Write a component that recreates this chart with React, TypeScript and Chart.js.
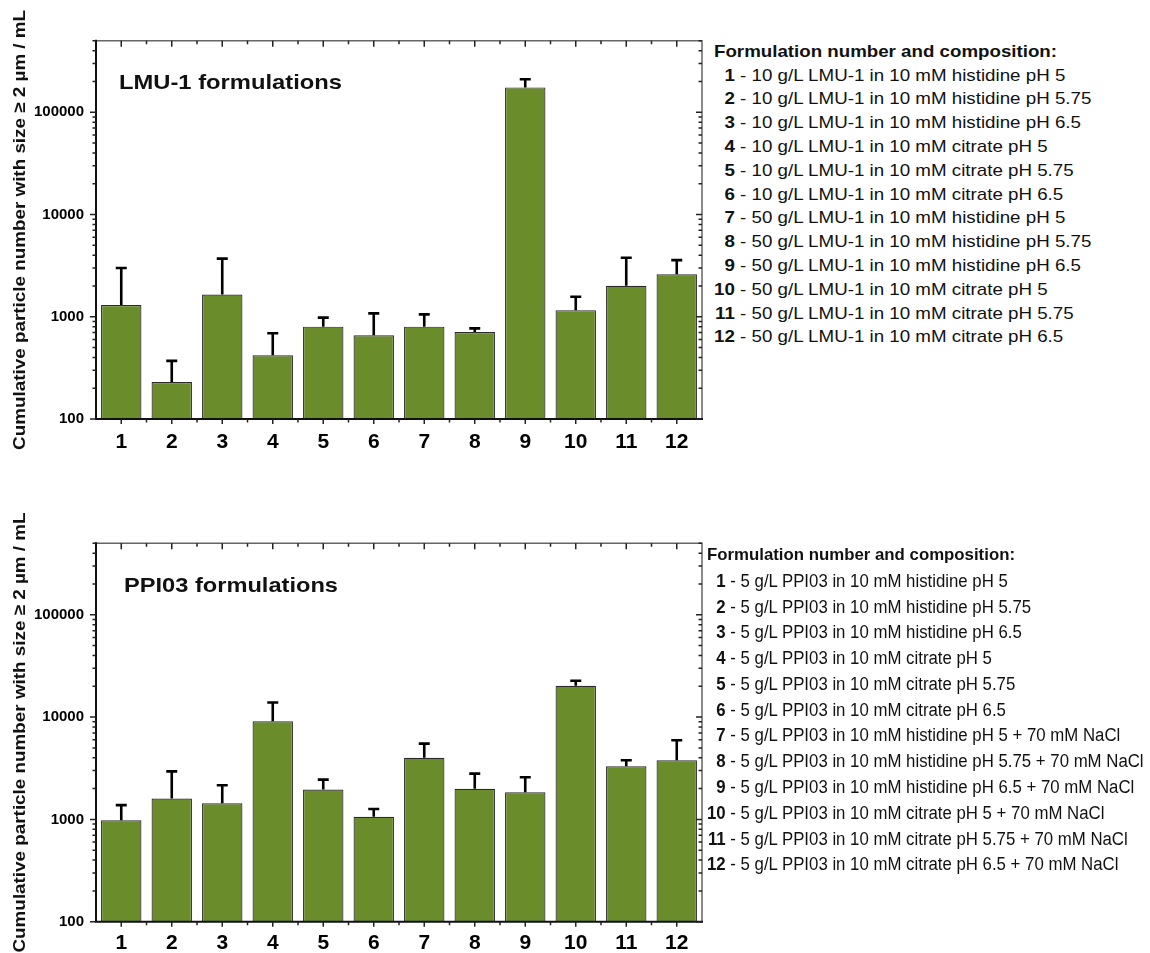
import React, { useEffect, useRef, useMemo } from "react";
import { Chart, registerables } from "chart.js";

Chart.register(...registerables);

const FONT = '"Liberation Sans", Arial, Helvetica, sans-serif';

// ---------------- data ----------------
const categories = ["1", "2", "3", "4", "5", "6", "7", "8", "9", "10", "11", "12"];

const lmuValues = [1300, 230, 1650, 420, 800, 660, 800, 710, 175000, 1160, 2010, 2600];
const lmuErrors = [1700, 140, 2050, 270, 180, 420, 255, 60, 35000, 410, 1770, 980];

const ppiValues = [980, 1600, 1440, 9100, 1960, 1060, 4000, 1990, 1840, 20200, 3300, 3780];
const ppiErrors = [400, 1350, 720, 4800, 490, 205, 1500, 810, 740, 2450, 480, 2150];

const yTickValues = [100, 1000, 10000, 100000];
const yMin = 100;
const yMax = 500000;

const yAxisTitle = "Cumulative particle number with size \u2265 2 \u00b5m / mL";
const lmuTitle = "LMU-1 formulations";
const ppiTitle = "PPI03 formulations";

const legendHeading = "Formulation number and composition:";
const lmuLegend = [
  "10 g/L LMU-1 in 10 mM histidine pH 5",
  "10 g/L LMU-1 in 10 mM histidine pH 5.75",
  "10 g/L LMU-1 in 10 mM histidine pH 6.5",
  "10 g/L LMU-1 in 10 mM citrate pH 5",
  "10 g/L LMU-1 in 10 mM citrate pH 5.75",
  "10 g/L LMU-1 in 10 mM citrate pH 6.5",
  "50 g/L LMU-1 in 10 mM histidine pH 5",
  "50 g/L LMU-1 in 10 mM histidine pH 5.75",
  "50 g/L LMU-1 in 10 mM histidine pH 6.5",
  "50 g/L LMU-1 in 10 mM citrate pH 5",
  "50 g/L LMU-1 in 10 mM citrate pH 5.75",
  "50 g/L LMU-1 in 10 mM citrate pH 6.5",
];
const ppiLegend = [
  "5 g/L PPI03 in 10 mM histidine pH 5",
  "5 g/L PPI03 in 10 mM histidine pH 5.75",
  "5 g/L PPI03 in 10 mM histidine pH 6.5",
  "5 g/L PPI03 in 10 mM citrate pH 5",
  "5 g/L PPI03 in 10 mM citrate pH 5.75",
  "5 g/L PPI03 in 10 mM citrate pH 6.5",
  "5 g/L PPI03 in 10 mM histidine pH 5 + 70 mM NaCl",
  "5 g/L PPI03 in 10 mM histidine pH 5.75 + 70 mM NaCl",
  "5 g/L PPI03 in 10 mM histidine pH 6.5 + 70 mM NaCl",
  "5 g/L PPI03 in 10 mM citrate pH 5 + 70 mM NaCl",
  "5 g/L PPI03 in 10 mM citrate pH 5.75 + 70 mM NaCl",
  "5 g/L PPI03 in 10 mM citrate pH 6.5 + 70 mM NaCl",
];

// ---------------- helpers ----------------
function fillFit(ctx: CanvasRenderingContext2D, text: string, x: number, y: number, target: number, align: CanvasTextAlign) {
  const w = ctx.measureText(text).width;
  const s = w > 0 ? target / w : 1;
  ctx.save();
  ctx.translate(x, y);
  ctx.scale(s, 1);
  ctx.textAlign = align;
  ctx.fillText(text, 0, 0);
  ctx.restore();
}

type Spec = {
  values: number[];
  errors: number[];
  title: string;
  titleDx: number;
  titleDy: number;
  titleWidth: number;
  padTop: number;
  xAxisHeight: number;
  xLabelPad: number;
};

function makeConfig(spec: Spec): any {
  const decor = {
    id: "decor",
    afterDatasetsDraw(chart: any) {
      const { ctx, chartArea: a, scales } = chart;
      const x = scales.x;
      const y = scales.y;
      const meta = chart.getDatasetMeta(0);
      ctx.save();
      // error bars (upper only)
      ctx.strokeStyle = "#000";
      ctx.lineWidth = 2.6;
      ctx.lineCap = "butt";
      meta.data.forEach((bar: any, i: number) => {
        const top = y.getPixelForValue(spec.values[i]);
        const end = y.getPixelForValue(spec.values[i] + spec.errors[i]);
        ctx.beginPath();
        ctx.moveTo(bar.x, top);
        ctx.lineTo(bar.x, end);
        ctx.moveTo(bar.x - 5.5, end);
        ctx.lineTo(bar.x + 5.5, end);
        ctx.stroke();
      });

      // frame
      ctx.lineCap = "square";
      ctx.strokeStyle = "#666";
      ctx.lineWidth = 1.5;
      ctx.beginPath();
      ctx.moveTo(a.left, a.top);
      ctx.lineTo(a.right, a.top);
      ctx.lineTo(a.right, a.bottom);
      ctx.stroke();
      ctx.strokeStyle = "#111";
      ctx.lineWidth = 2;
      ctx.beginPath();
      ctx.moveTo(a.left, a.top);
      ctx.lineTo(a.left, a.bottom);
      ctx.lineTo(a.right, a.bottom);
      ctx.stroke();

      // ticks
      ctx.lineCap = "butt";
      ctx.lineWidth = 1.5;
      ctx.strokeStyle = "#222";
      ctx.beginPath();
      const n = categories.length;
      for (let i = 0; i < n; i++) {
        const px = x.getPixelForValue(i);
        ctx.moveTo(px, a.bottom);
        ctx.lineTo(px, a.bottom + 5);
        ctx.moveTo(px, a.top);
        ctx.lineTo(px, a.top + 6);
      }
      for (let i = 1; i < n; i++) {
        const px = (x.getPixelForValue(i - 1) + x.getPixelForValue(i)) / 2;
        ctx.moveTo(px, a.bottom);
        ctx.lineTo(px, a.bottom + 3.5);
        ctx.moveTo(px, a.top);
        ctx.lineTo(px, a.top + 3.5);
      }
      for (let d = 100; d <= yMax; d *= 10) {
        for (let m = 1; m <= 9; m++) {
          const v = d * m;
          if (v > yMax) break;
          const py = y.getPixelForValue(v);
          const len = m === 1 ? 6 : 3.5;
          ctx.moveTo(a.left, py);
          ctx.lineTo(a.left - len, py);
          ctx.moveTo(a.right, py);
          ctx.lineTo(a.right - len, py);
        }
      }
      ctx.stroke();

      // inner title
      ctx.fillStyle = "#111";
      ctx.font = `bold 21px ${FONT}`;
      ctx.textBaseline = "middle";
      fillFit(ctx, spec.title, a.left + spec.titleDx, a.top + spec.titleDy, spec.titleWidth, "left");

      // y axis title
      ctx.save();
      ctx.translate(20, (a.top + a.bottom) / 2);
      ctx.rotate(-Math.PI / 2);
      ctx.font = `bold 17px ${FONT}`;
      ctx.textBaseline = "middle";
      fillFit(ctx, yAxisTitle, 0, 0, 440, "center");
      ctx.restore();

      ctx.restore();
    },
  };

  return {
    type: "bar",
    data: {
      labels: categories,
      datasets: [
        {
          data: spec.values,
          backgroundColor: "#6b8c2b",
          borderColor: "#2a2a2a",
          borderWidth: 1.2,
          categoryPercentage: 1,
          barPercentage: 0.8,
        },
      ],
    },
    options: {
      animation: false,
      responsive: false,
      maintainAspectRatio: false,
      devicePixelRatio: 1,
      layout: { padding: { top: spec.padTop, right: 8, left: 0, bottom: 0 } },
      plugins: { legend: { display: false }, tooltip: { enabled: false }, title: { display: false } },
      scales: {
        x: {
          type: "category",
          offset: true,
          grid: { display: false, drawTicks: false },
          border: { display: false },
          ticks: {
            color: "#000",
            padding: spec.xLabelPad,
            font: { family: FONT, size: 21, weight: "bold" },
            maxRotation: 0,
            autoSkip: false,
          },
          afterFit(s: any) {
            s.height = spec.xAxisHeight;
          },
        },
        y: {
          type: "logarithmic",
          min: yMin,
          max: yMax,
          grid: { display: false, drawTicks: false },
          border: { display: false },
          ticks: {
            color: "#000",
            padding: 12,
            font: { family: FONT, size: 15, weight: "bold" },
            callback: (v: any) => String(v),
          },
          afterBuildTicks(s: any) {
            s.ticks = yTickValues.map((v) => ({ value: v }));
          },
          afterFit(s: any) {
            s.width = 96;
          },
        },
      },
    },
    plugins: [decor],
  };
}

function BarChart({ spec, top, height }: { spec: Spec; top: number; height: number }) {
  const ref = useRef<HTMLCanvasElement | null>(null);
  useEffect(() => {
    if (!ref.current) return;
    const chart = new Chart(ref.current, makeConfig(spec));
    return () => chart.destroy();
  }, [spec]);
  return (
    <canvas
      ref={ref}
      width={710}
      height={height}
      style={{ position: "absolute", left: 0, top, width: 710, height }}
    />
  );
}

type LegendSpec = {
  items: string[];
  x0: number;
  y0: number;
  dy: number;
  headSize: number;
  lineSize: number;
  headWidth: number;
  refIndex: number;
  refWidth: number;
};

function Legend({ spec }: { spec: LegendSpec }) {
  const m = useMemo(() => {
    const c = document.createElement("canvas").getContext("2d") as CanvasRenderingContext2D;
    c.font = `bold ${spec.headSize}px ${FONT}`;
    const sh = spec.headWidth / c.measureText(legendHeading).width;
    c.font = `bold ${spec.lineSize}px ${FONT}`;
    const wNum = c.measureText("10").width;
    c.font = `${spec.lineSize}px ${FONT}`;
    const refRest = c.measureText(" - " + spec.items[spec.refIndex]).width;
    const sl = spec.refWidth / (wNum + refRest);
    return { sh, sl, wNum };
  }, [spec]);
  const lh = 22;
  return (
    <>
      <div
        style={{
          position: "absolute",
          left: spec.x0,
          top: spec.y0 - lh / 2,
          height: lh,
          lineHeight: `${lh}px`,
          whiteSpace: "nowrap",
          fontFamily: FONT,
          fontWeight: "bold",
          fontSize: spec.headSize,
          color: "#111",
          transform: `scaleX(${m.sh})`,
          transformOrigin: "0 50%",
        }}
      >
        {legendHeading}
      </div>
      {spec.items.map((t, i) => (
        <div
          key={i}
          style={{
            position: "absolute",
            left: spec.x0,
            top: spec.y0 + spec.dy * (i + 1) - lh / 2,
            height: lh,
            lineHeight: `${lh}px`,
            whiteSpace: "pre",
            fontFamily: FONT,
            fontSize: spec.lineSize,
            color: "#111",
            transform: `scaleX(${m.sl})`,
            transformOrigin: "0 50%",
          }}
        >
          <span style={{ display: "inline-block", width: m.wNum, textAlign: "right", fontWeight: "bold" }}>
            {String(i + 1)}
          </span>
          {" - " + t}
        </div>
      ))}
    </>
  );
}

const lmuSpec: Spec = {
  values: lmuValues,
  errors: lmuErrors,
  title: lmuTitle,
  titleDx: 23,
  titleDy: 42.7,
  titleWidth: 223,
  padTop: 40.8,
  xAxisHeight: 51,
  xLabelPad: 11,
};

const ppiSpec: Spec = {
  values: ppiValues,
  errors: ppiErrors,
  title: ppiTitle,
  titleDx: 28,
  titleDy: 43.3,
  titleWidth: 214,
  padTop: 73.3,
  xAxisHeight: 31.3,
  xLabelPad: 9,
};

const lmuLegendSpec: LegendSpec = {
  items: lmuLegend,
  x0: 714,
  y0: 51.7,
  dy: 23.8,
  headSize: 17,
  lineSize: 17,
  headWidth: 343,
  refIndex: 9,
  refWidth: 334.3,
};

const ppiLegendSpec: LegendSpec = {
  items: ppiLegend,
  x0: 707,
  y0: 555,
  dy: 25.78,
  headSize: 17,
  lineSize: 18,
  headWidth: 308,
  refIndex: 9,
  refWidth: 398,
};

export default function App() {
  return (
    <div
      style={{
        position: "absolute",
        left: 0,
        top: 0,
        width: 1150,
        height: 953,
        background: "#fff",
        overflow: "hidden",
      }}
    >
      <BarChart spec={lmuSpec} top={0} height={470} />
      <BarChart spec={ppiSpec} top={470} height={483} />
      <Legend spec={lmuLegendSpec} />
      <Legend spec={ppiLegendSpec} />
    </div>
  );
}
